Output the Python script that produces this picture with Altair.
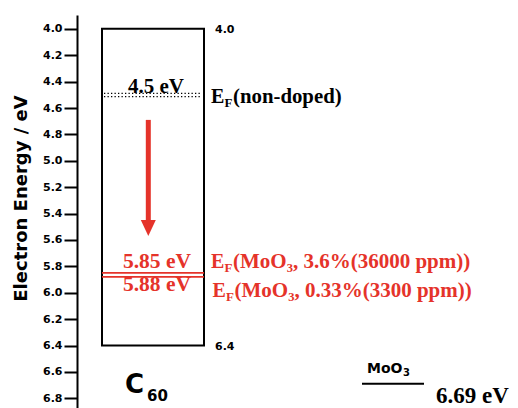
import altair as alt
import pandas as pd

# ---------------- data (energies in eV) ----------------
energy_ticks = [4.0, 4.2, 4.4, 4.6, 4.8, 5.0, 5.2, 5.4, 5.6, 5.8, 6.0, 6.2, 6.4, 6.6, 6.8]
c60_levels = [4.0, 6.4]                 # top / bottom of the C60 box
c60_level_text = ["4.0", "6.4"]
ef_nondoped = 4.5
ef_nondoped_text = "4.5 eV"
ef_doped = [5.85, 5.88]
ef_doped_text = ["5.85 eV", "5.88 eV"]
ef_doped_desc = ["(MoO\u2083, 3.6%(36000 ppm))", "(MoO\u2083, 0.33%(3300 ppm))"]
moo3_level = 6.69
moo3_text = "6.69 eV"
arrow_span = [4.69, 5.47]
arrow_tip = 5.51

# ---------------- layout / style ----------------
RED = "#e5332a"
SERIF = "Liberation Serif"
SANS = "DejaVu Sans"
W, H = 433, 393
X = dict(box_l=25, box_r=127, dot_l=27, dot_r=124, arrow=71.3, mid=79,
         side_num=138, ef=134, c=48, c_sub=70,
         moo3_l=285, moo3_r=347, moo3_lab=290, moo3_val=359)

xs = alt.Scale(domain=[0, W], nice=False, zero=False)
ys = alt.Scale(domain=[3.895, 6.8735], reverse=True, nice=False, zero=False)

Y_AXIS = alt.Axis(
    values=energy_ticks, format=".1f", title="Electron Energy / eV",
    titleFont=SANS, titleFontSize=18, titleFontWeight="bold", titleColor="black",
    labelFont=SANS, labelFontSize=11, labelFontWeight="bold", labelColor="black",
    tickSize=13, tickWidth=2, tickColor="black", domainColor="black", domainWidth=2,
    labelPadding=2, titleX=-47, titleY=183, grid=False,
    labelFlush=False, labelOverlap=False)


def xq(f="x"):
    return alt.X(f"{f}:Q", scale=xs, axis=None)


def yq(f="y"):
    return alt.Y(f"{f}:Q", scale=ys, axis=Y_AXIS)


# box
box_df = pd.DataFrame({"x": [X["box_l"]], "x2": [X["box_r"]],
                       "y": [c60_levels[0]], "y2": [c60_levels[1]]})
box = alt.Chart(box_df).mark_rect(fillOpacity=0, stroke="black", strokeWidth=2).encode(
    x=xq(), x2="x2:Q", y=yq(), y2="y2:Q")

# side numbers 4.0 / 6.4
side_df = pd.DataFrame({"x": [X["side_num"]] * 2, "y": c60_levels, "t": c60_level_text})
side = alt.Chart(side_df).mark_text(font=SANS, fontSize=11, fontWeight="bold", color="black",
                                    align="left", baseline="middle", dy=1).encode(
    x=xq(), y=yq(), text="t:N")

# non-doped Fermi level (double dotted)
dot_df = pd.DataFrame({"x": [X["dot_l"]], "x2": [X["dot_r"]], "y": [ef_nondoped]})
dots = [alt.Chart(dot_df).mark_rule(color="black", strokeWidth=1.3, strokeDash=[1.3, 2.2],
                                    yOffset=off).encode(x=xq(), x2="x2:Q", y=yq())
        for off in (-1.5, 1.8)]

nd_df = pd.DataFrame({"x": [X["mid"]], "xe": [X["ef"]], "y": [ef_nondoped], "t": [ef_nondoped_text]})
nd_val = alt.Chart(nd_df).mark_text(font=SERIF, fontSize=21, fontWeight="bold", color="black",
                                    align="center", baseline="alphabetic", dy=-2).encode(
    x=xq(), y=yq(), text="t:N")
nd_E = alt.Chart(nd_df).mark_text(font=SERIF, fontSize=20, fontWeight="bold", color="black",
                                  align="left", baseline="alphabetic", dy=8).encode(
    x=xq("xe"), y=yq(), text=alt.value("E"))
nd_F = alt.Chart(nd_df).mark_text(font=SERIF, fontSize=13, fontWeight="bold", color="black",
                                  align="left", baseline="alphabetic", dy=12, dx=13.5).encode(
    x=xq("xe"), y=yq(), text=alt.value("F"))
nd_rest = alt.Chart(nd_df).mark_text(font=SERIF, fontSize=20.8, fontWeight="bold", color="black",
                                     align="left", baseline="alphabetic", dy=8, dx=22).encode(
    x=xq("xe"), y=yq(), text=alt.value("(non-doped)"))

# arrow
arrow_df = pd.DataFrame({"x": [X["arrow"]], "y": [arrow_span[0]], "y2": [arrow_span[1]], "tip": [arrow_tip]})
arrow_shaft = alt.Chart(arrow_df).mark_rule(color=RED, strokeWidth=5).encode(
    x=xq(), y=yq(), y2="y2:Q")
arrow_head = alt.Chart(arrow_df).mark_point(shape="M-1,-1.07L1,-1.07L0,1.07Z", size=225,
                                            filled=True, color=RED, opacity=1).encode(
    x=xq(), y=yq("tip"))

# doped Fermi levels
dl_df = pd.DataFrame({"x": [X["box_l"]] * 2, "x2": [X["box_r"]] * 2, "y": ef_doped,
                      "xm": [X["mid"]] * 2, "xe": [X["ef"]] * 2,
                      "t": ef_doped_text, "d": ef_doped_desc})
dl_lines = alt.Chart(dl_df).mark_rule(color=RED, strokeWidth=1.8).encode(x=xq(), x2="x2:Q", y=yq())


def red_text(row, dy, x="xm", text="t", **kw):
    d = dl_df.iloc[[row]]
    return alt.Chart(d).mark_text(font=SERIF, color=RED, fontWeight="bold", baseline="alphabetic",
                                  dy=dy, **kw).encode(x=xq(x), y=yq(), text=f"{text}:N")


def red_const(row, dy, dx, s, size):
    d = dl_df.iloc[[row]]
    return alt.Chart(d).mark_text(font=SERIF, color=RED, fontWeight="bold", baseline="alphabetic",
                                  align="left", dy=dy, dx=dx, fontSize=size).encode(
        x=xq("xe"), y=yq(), text=alt.value(s))


dl_texts = [
    red_text(0, -4.5, fontSize=21.5, align="center", dx=1),
    red_text(1, 14, fontSize=21.5, align="center", dx=1),
    red_const(0, -4.5, 0, "E", 20), red_const(0, -0.5, 13.5, "F", 13),
    red_text(0, -4.5, x="xe", text="d", fontSize=21, align="left", dx=22),
    red_const(1, 19.8, 1.5, "E", 20), red_const(1, 23.8, 15, "F", 13),
    red_text(1, 19.8, x="xe", text="d", fontSize=21, align="left", dx=23.5),
]

# C60 label
c_df = pd.DataFrame({"x": [X["c"]], "xs": [X["c_sub"]], "y": [c60_levels[1]]})
c_main = alt.Chart(c_df).mark_text(font=SANS, fontSize=26, fontWeight="bold", color="black",
                                   align="left", baseline="alphabetic", dy=47.5).encode(
    x=xq(), y=yq(), text=alt.value("C"))
c_sub = alt.Chart(c_df).mark_text(font=SANS, fontSize=15, fontWeight="bold", color="black",
                                  align="left", baseline="alphabetic", dy=55).encode(
    x=xq("xs"), y=yq(), text=alt.value("60"))

# MoO3 level
m_df = pd.DataFrame({"x": [X["moo3_l"]], "x2": [X["moo3_r"]], "y": [moo3_level],
                     "xl": [X["moo3_lab"]], "xv": [X["moo3_val"]], "t": [moo3_text]})
m_line = alt.Chart(m_df).mark_rule(color="black", strokeWidth=2).encode(x=xq(), x2="x2:Q", y=yq())
m_lab = alt.Chart(m_df).mark_text(font=SANS, fontSize=14, fontWeight="bold", color="black",
                                  align="left", baseline="alphabetic", dy=-10.5).encode(
    x=xq("xl"), y=yq(), text=alt.value("MoO"))
m_lab3 = alt.Chart(m_df).mark_text(font=SANS, fontSize=10, fontWeight="bold", color="black",
                                   align="left", baseline="alphabetic", dy=-7.5, dx=36).encode(
    x=xq("xl"), y=yq(), text=alt.value("3"))
m_val = alt.Chart(m_df).mark_text(font=SERIF, fontSize=23, fontWeight="bold", color="black",
                                  align="left", baseline="alphabetic", dy=19.5).encode(
    x=xq("xv"), y=yq(), text="t:N")

chart = alt.layer(
    box, side, *dots, nd_val, nd_E, nd_F, nd_rest,
    arrow_shaft, arrow_head, dl_lines, *dl_texts,
    c_main, c_sub, m_line, m_lab, m_lab3, m_val
).properties(
    width=W, height=H,
    autosize=alt.AutoSizeParams(type="none"),
    padding={"left": 69, "top": 7, "right": 0, "bottom": 0},
    background="white",
).configure_view(stroke=None)

chart.save("out.html", embed_options={"renderer": "svg", "actions": False})
